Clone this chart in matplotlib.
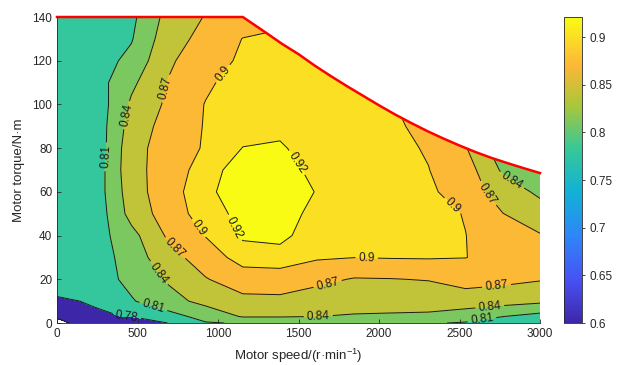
import numpy as np
import matplotlib
matplotlib.use('Agg')
import matplotlib.pyplot as plt
from matplotlib.colors import LinearSegmentedColormap, Normalize
from matplotlib.cm import ScalarMappable

plt.rcParams['font.family'] = ['Liberation Sans', 'DejaVu Sans']
plt.rcParams['mathtext.fontset'] = 'custom'
plt.rcParams['mathtext.rm'] = 'Liberation Sans'

# measurement grid (speed in r/min, torque in N*m)
speed = [0, 231, 462, 692, 923, 1154, 1385, 1615, 1846, 2077, 2308, 2538, 2769, 3000]
torque = [0, 3, 10, 20, 30, 40, 50, 60, 70, 80, 90, 100, 110, 120, 130, 140]

# efficiency, one list per torque row
eff = [
    [0.55, 0.70, 0.74, 0.781, 0.808, 0.812, 0.812, 0.812, 0.812, 0.812, 0.812, 0.808, 0.795, 0.782],
    [0.62, 0.776, 0.7816, 0.7991, 0.8202, 0.8425, 0.8425, 0.8402, 0.838, 0.837, 0.836, 0.822, 0.8105, 0.800],
    [0.776, 0.7825, 0.8075, 0.8291, 0.849, 0.862, 0.862, 0.8545, 0.8502, 0.8502, 0.850, 0.858, 0.852, 0.846],
    [0.795, 0.795, 0.818, 0.8438, 0.8682, 0.8858, 0.889, 0.8777, 0.868, 0.869, 0.8715, 0.879, 0.877, 0.872],
    [0.790, 0.792, 0.8248, 0.8587, 0.885, 0.911, 0.911, 0.903, 0.9003, 0.9015, 0.902, 0.9005, 0.890, 0.886],
    [0.790, 0.795, 0.8303, 0.8748, 0.9011, 0.9227, 0.926, 0.9076, 0.905, 0.904, 0.903, 0.9003, 0.886, 0.872],
    [0.786, 0.7888, 0.8507, 0.8846, 0.9133, 0.9243, 0.929, 0.9139, 0.912, 0.910, 0.908, 0.8988, 0.8705, 0.853],
    [0.787, 0.7912, 0.856, 0.8882, 0.9175, 0.9261, 0.932, 0.919, 0.912, 0.909, 0.905, 0.8858, 0.8561, 0.8344],
    [0.786, 0.7895, 0.8602, 0.8839, 0.913, 0.928, 0.930, 0.9133, 0.910, 0.908, 0.9005, 0.884, 0.8354, 0.820],
    [0.784, 0.7863, 0.8593, 0.8837, 0.9029, 0.9205, 0.922, 0.912, 0.910, 0.906, 0.898, 0.872, 0.820, 0.805],
    [0.785, 0.7883, 0.8525, 0.8817, 0.9018, 0.912, 0.916, 0.916, 0.912, 0.905, 0.892, 0.862, 0.810, 0.795],
    [0.785, 0.7883, 0.8446, 0.8757, 0.9012, 0.912, 0.915, 0.915, 0.912, 0.902, 0.885, 0.855, 0.800, 0.790],
    [0.788, 0.795, 0.8338, 0.8713, 0.895, 0.913, 0.914, 0.913, 0.910, 0.895, 0.875, 0.850, 0.800, 0.790],
    [0.790, 0.795, 0.818, 0.866, 0.886, 0.905, 0.912, 0.912, 0.905, 0.890, 0.870, 0.845, 0.800, 0.790],
    [0.793, 0.800, 0.8078, 0.8582, 0.8787, 0.9007, 0.905, 0.910, 0.905, 0.890, 0.870, 0.840, 0.800, 0.790],
    [0.795, 0.800, 0.803, 0.8506, 0.8716, 0.885, 0.893, 0.900, 0.900, 0.885, 0.865, 0.840, 0.800, 0.790],
]

# external characteristic (max torque) curve
env_speed = [0, 1154, 1300, 1400, 1500, 1600, 1700, 1800, 1900, 2000, 2100, 2200,
             2300, 2400, 2500, 2600, 2700, 2800, 2900, 3000]
env_torque = [140, 140, 132.7, 127.6, 123.0, 117.8, 113.0, 108.4, 104.0, 99.6, 95.4,
              91.5, 87.8, 84.4, 81.2, 78.2, 75.5, 73.1, 70.8, 68.6]

levels = [0.6, 0.78, 0.81, 0.84, 0.87, 0.9, 0.92, 0.95]
cbar_ticks = [0.6, 0.65, 0.7, 0.75, 0.8, 0.85, 0.9]

label_pos = {
    0.6: [],
    0.78: [(433, 2.9)],
    0.81: [(310, 76), (588, 5), (2638, 2.3)],
    0.84: [(441, 95), (629, 22.7), (1623, 2.9), (2689, 6.7), (2814, 64)],
    0.87: [(691, 107), (722, 33.4), (1675, 19.7), (2731, 16.3), (2669, 59)],
    0.9: [(1043, 113.4), (878, 43.3), (1923, 28.8), (2451, 53.2)],
    0.92: [(1499, 73.8), (1095, 43.3)],
}

# parula-like colormap
parula = LinearSegmentedColormap.from_list('parula', [
    (0.0, (0.2422, 0.1504, 0.6603)),
    (1 / 7, (0.2810, 0.3228, 0.9579)),
    (2 / 7, (0.1786, 0.5289, 0.9682)),
    (3 / 7, (0.0689, 0.6948, 0.8394)),
    (4 / 7, (0.2161, 0.7843, 0.5923)),
    (5 / 7, (0.6720, 0.7793, 0.2227)),
    (0.84, (0.985, 0.720, 0.210)),
    (0.87, (0.990, 0.760, 0.200)),
    (1.0, (0.9769, 0.9839, 0.0805)),
])
norm = Normalize(vmin=0.6, vmax=0.921)

N, T = np.meshgrid(speed, torque)
E = np.array(eff)

fig = plt.figure(figsize=(6.18, 3.65), dpi=100)
ax = fig.add_axes([57 / 618, 1 - 323 / 365, 483 / 618, 306 / 365])
cax = fig.add_axes([564 / 618, 1 - 323 / 365, 18 / 618, 306 / 365])

fill_colors = [parula(norm(v)) for v in levels[:-1]]
ax.contourf(N, T, E, levels=levels, colors=fill_colors, zorder=1)
ax.set_xlim(0, 3000)
ax.set_ylim(0, 140)

for lev, pos in label_pos.items():
    cs = ax.contour(N, T, E, levels=[lev], colors='#1a1a1a', linewidths=0.7, zorder=2)
    if pos:
        ax.clabel(cs, manual=pos, inline=True, fontsize=8.5,
                  fmt=lambda v: f'{v:g}', inline_spacing=3)

# blank out the region above the torque limit
ax.fill_between(env_speed, env_torque, 150, color='white', lw=0, zorder=4)
ax.plot(env_speed, env_torque, color='red', lw=1.8, zorder=5, clip_on=False,
        solid_joinstyle='round')

gray = '#262626'
ax.set_xticks(range(0, 3001, 500))
ax.set_yticks(range(0, 141, 20))
ax.tick_params(direction='in', length=3, labelsize=8.5, colors=gray, width=0.6)
for s in ['top', 'right']:
    ax.spines[s].set_visible(False)
for s in ['left', 'bottom']:
    ax.spines[s].set_color(gray)
    ax.spines[s].set_linewidth(0.6)
    ax.spines[s].set_zorder(6)
ax.set_xlabel('Motor speed/(r·min$^{-1}$)', fontsize=9.5, color=gray, labelpad=5)
ax.set_ylabel('Motor torque/N·m', fontsize=9.5, color=gray, labelpad=5)

cb = fig.colorbar(ScalarMappable(norm=norm, cmap=parula), cax=cax)
cb.set_ticks(cbar_ticks)
cb.set_ticklabels([f'{t:g}' for t in cbar_ticks])
cb.ax.tick_params(direction='out', length=2, labelsize=8.5, colors=gray, width=0.6)
cb.outline.set_edgecolor(gray)
cb.outline.set_linewidth(0.6)

fig.savefig('out.png', dpi=100)
